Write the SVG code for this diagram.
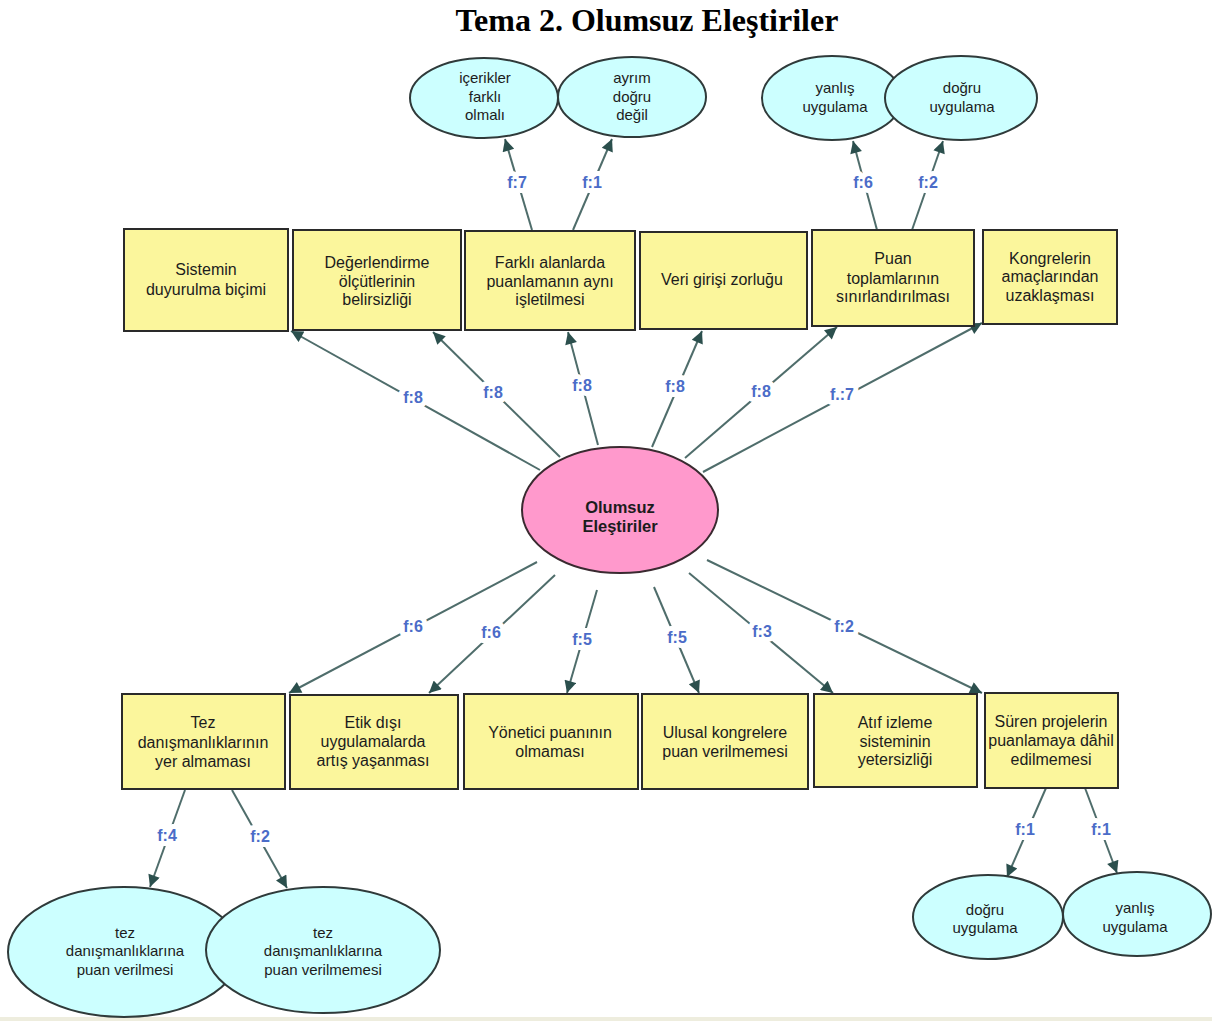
<svg xmlns="http://www.w3.org/2000/svg" width="1212" height="1021" viewBox="0 0 1212 1021">
<style>
.box{fill:#fbf69c;stroke:#2a2a2a;stroke-width:2}
.ell{fill:#ccffff;stroke:#2f3a3a;stroke-width:2}
.ctr{fill:#ff99cc;stroke:#3a2a30;stroke-width:2}
.t{font-family:"Liberation Sans",Arial,sans-serif;font-size:16px;fill:#1c1c1c;text-anchor:middle}
.te{font-family:"Liberation Sans",Arial,sans-serif;font-size:15px;fill:#1c1c1c;text-anchor:middle}
.tb{font-family:"Liberation Sans",Arial,sans-serif;font-size:16.5px;font-weight:bold;fill:#1c1c1c;text-anchor:middle}
.c{stroke:#4f6d6b;stroke-width:2;fill:none;marker-end:url(#ah)}
.lb{font-family:"Liberation Sans",Arial,sans-serif;font-size:16px;font-weight:bold;fill:#4b6cc8;text-anchor:middle;stroke:#ffffff;stroke-width:10;stroke-linejoin:round;paint-order:stroke}
.title{font-family:"Liberation Serif","Times New Roman",serif;font-size:32px;font-weight:bold;fill:#000;text-anchor:middle}
</style>
<defs>
<marker id="ah" viewBox="0 0 10 10" refX="10" refY="5" markerWidth="14" markerHeight="12" markerUnits="userSpaceOnUse" orient="auto">
<path d="M0,0 L10,5 L0,10 Z" fill="#2b4f4d"/>
</marker>
</defs>
<rect x="0" y="0" width="1212" height="1021" fill="#ffffff"/>
<rect x="0" y="1017" width="1212" height="4" fill="#eeedde"/>
<text class="title" x="647" y="31">Tema 2. Olumsuz Eleştiriler</text>

<g id="connectors">
<line class="c" x1="540" y1="470" x2="291" y2="331"/>
<line class="c" x1="560" y1="457" x2="433" y2="332"/>
<line class="c" x1="598" y1="445" x2="568" y2="332"/>
<line class="c" x1="652" y1="447" x2="702" y2="331"/>
<line class="c" x1="685" y1="458" x2="837" y2="327"/>
<line class="c" x1="703" y1="472" x2="982" y2="323"/>
<line class="c" x1="537" y1="562" x2="289" y2="693"/>
<line class="c" x1="555" y1="575" x2="429" y2="693"/>
<line class="c" x1="597" y1="590" x2="567" y2="693"/>
<line class="c" x1="654" y1="587" x2="699" y2="693"/>
<line class="c" x1="689" y1="573" x2="833" y2="693"/>
<line class="c" x1="707" y1="560" x2="982" y2="693"/>
<line class="c" x1="532" y1="230" x2="505" y2="139"/>
<line class="c" x1="573" y1="230" x2="612" y2="139"/>
<line class="c" x1="877" y1="230" x2="853" y2="141"/>
<line class="c" x1="912" y1="230" x2="943" y2="141"/>
<line class="c" x1="185" y1="790" x2="150" y2="887"/>
<line class="c" x1="232" y1="790" x2="287" y2="888"/>
<line class="c" x1="1046" y1="788" x2="1007" y2="877"/>
<line class="c" x1="1085" y1="788" x2="1117" y2="873"/>
<text class="lb" x="413" y="403">f:8</text>
<text class="lb" x="493" y="398">f:8</text>
<text class="lb" x="582" y="391">f:8</text>
<text class="lb" x="675" y="392">f:8</text>
<text class="lb" x="761" y="397">f:8</text>
<text class="lb" x="842" y="400">f.:7</text>
<text class="lb" x="413" y="632">f:6</text>
<text class="lb" x="491" y="638">f:6</text>
<text class="lb" x="582" y="645">f:5</text>
<text class="lb" x="677" y="643">f:5</text>
<text class="lb" x="762" y="637">f:3</text>
<text class="lb" x="844" y="632">f:2</text>
<text class="lb" x="517" y="188">f:7</text>
<text class="lb" x="592" y="188">f:1</text>
<text class="lb" x="863" y="188">f:6</text>
<text class="lb" x="928" y="188">f:2</text>
<text class="lb" x="167" y="841">f:4</text>
<text class="lb" x="260" y="842">f:2</text>
<text class="lb" x="1025" y="835">f:1</text>
<text class="lb" x="1101" y="835">f:1</text>
</g>

<g id="center">
<ellipse class="ctr" cx="620" cy="510" rx="98" ry="63"/>
<text class="tb" x="620" y="513">Olumsuz</text>
<text class="tb" x="620" y="532">Eleştiriler</text>
</g>

<g id="top1"><rect class="box" x="124" y="229" width="164" height="102"/>
<text class="t" x="206" y="275">Sistemin</text><text class="t" x="206" y="295">duyurulma biçimi</text></g>
<g id="top2"><rect class="box" x="293" y="230" width="168" height="100"/>
<text class="t" x="377" y="268">Değerlendirme</text><text class="t" x="377" y="287">ölçütlerinin</text><text class="t" x="377" y="305">belirsizliği</text></g>
<g id="top3"><rect class="box" x="465" y="231" width="170" height="99"/>
<text class="t" x="550" y="268">Farklı alanlarda</text><text class="t" x="550" y="287">puanlamanın aynı</text><text class="t" x="550" y="305">işletilmesi</text></g>
<g id="top4"><rect class="box" x="640" y="232" width="167" height="97"/>
<text class="t" x="722" y="285">Veri girişi zorluğu</text></g>
<g id="top5"><rect class="box" x="812" y="230" width="162" height="96"/>
<text class="t" x="893" y="264">Puan</text><text class="t" x="893" y="284">toplamlarının</text><text class="t" x="893" y="302">sınırlandırılması</text></g>
<g id="top6"><rect class="box" x="983" y="230" width="134" height="94"/>
<text class="t" x="1050" y="264">Kongrelerin</text><text class="t" x="1050" y="282">amaçlarından</text><text class="t" x="1050" y="301">uzaklaşması</text></g>

<g id="bot1"><rect class="box" x="122" y="694" width="163" height="95"/>
<text class="t" x="203" y="728">Tez</text><text class="t" x="203" y="748">danışmanlıklarının</text><text class="t" x="203" y="767">yer almaması</text></g>
<g id="bot2"><rect class="box" x="290" y="695" width="168" height="94"/>
<text class="t" x="373" y="728">Etik dışı</text><text class="t" x="373" y="747">uygulamalarda</text><text class="t" x="373" y="766">artış yaşanması</text></g>
<g id="bot3"><rect class="box" x="464" y="694" width="174" height="95"/>
<text class="t" x="550" y="738">Yönetici puanının</text><text class="t" x="550" y="757">olmaması</text></g>
<g id="bot4"><rect class="box" x="642" y="694" width="166" height="95"/>
<text class="t" x="725" y="738">Ulusal kongrelere</text><text class="t" x="725" y="757">puan verilmemesi</text></g>
<g id="bot5"><rect class="box" x="814" y="694" width="163" height="93"/>
<text class="t" x="895" y="728">Atıf izleme</text><text class="t" x="895" y="747">sisteminin</text><text class="t" x="895" y="765">yetersizliği</text></g>
<g id="bot6"><rect class="box" x="985" y="693" width="133" height="95"/>
<text class="t" x="1051" y="727">Süren projelerin</text><text class="t" x="1051" y="746">puanlamaya dâhil</text><text class="t" x="1051" y="765">edilmemesi</text></g>

<g id="e1"><ellipse class="ell" cx="484" cy="98" rx="74" ry="40"/>
<text class="te" x="485" y="83">içerikler</text><text class="te" x="485" y="102">farklı</text><text class="te" x="485" y="120">olmalı</text></g>
<g id="e2"><ellipse class="ell" cx="632" cy="97" rx="74" ry="40"/>
<text class="te" x="632" y="83">ayrım</text><text class="te" x="632" y="102">doğru</text><text class="te" x="632" y="120">değil</text></g>
<g id="e3"><ellipse class="ell" cx="832" cy="98" rx="70" ry="42"/>
<text class="te" x="835" y="93">yanlış</text><text class="te" x="835" y="112">uygulama</text></g>
<g id="e4"><ellipse class="ell" cx="961" cy="98" rx="76" ry="42"/>
<text class="te" x="962" y="93">doğru</text><text class="te" x="962" y="112">uygulama</text></g>
<g id="e5"><ellipse class="ell" cx="124" cy="952" rx="116" ry="65"/>
<text class="te" x="125" y="938">tez</text><text class="te" x="125" y="956">danışmanlıklarına</text><text class="te" x="125" y="975">puan verilmesi</text></g>
<g id="e6"><ellipse class="ell" cx="323" cy="950" rx="117" ry="63"/>
<text class="te" x="323" y="938">tez</text><text class="te" x="323" y="956">danışmanlıklarına</text><text class="te" x="323" y="975">puan verilmemesi</text></g>
<g id="e7"><ellipse class="ell" cx="988" cy="917" rx="75" ry="42"/>
<text class="te" x="985" y="915">doğru</text><text class="te" x="985" y="933">uygulama</text></g>
<g id="e8"><ellipse class="ell" cx="1137" cy="914" rx="74" ry="42"/>
<text class="te" x="1135" y="913">yanlış</text><text class="te" x="1135" y="932">uygulama</text></g>
</svg>
